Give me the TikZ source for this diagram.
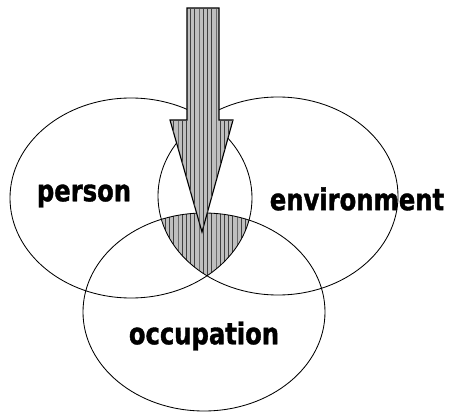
\documentclass[tikz,border=0pt]{standalone}
\usepackage{fontspec}
\newfontfamily\labelfont{DejaVu Sans Condensed}[BoldFont={DejaVu Sans Condensed Bold}, BoldFeatures={FakeStretch=0.9, FakeBold=1.2}]
\usetikzlibrary{patterns}

\begin{document}
\begin{tikzpicture}[x=0.025cm, y=-0.025cm,
  ring/.style={draw, line width=0.6pt},
  hatch/.style={fill=gray!50, postaction={pattern=vertical lines, pattern color=black!75}},
  tag/.style={font=\labelfont\bfseries\fontsize{21.3}{22}\selectfont, inner sep=0pt}]
\useasboundingbox (0,0) rectangle (449,414);
% overlap of all three
\begin{scope}
  \clip (131,198) ellipse [x radius=121, y radius=100];
  \clip (278,196) ellipse [x radius=120, y radius=99];
  \fill[hatch] (204,312) ellipse [x radius=121, y radius=99];
\end{scope}
\draw[ring] (131,198) ellipse [x radius=121, y radius=100];
\draw[ring] (278,196) ellipse [x radius=120, y radius=99];
\draw[ring] (204,312) ellipse [x radius=121, y radius=99];
% big arrow
\draw[hatch, line width=0.8pt] (187,8) -- (219,8) -- (219,120) -- (233,120) -- (202,232) -- (170,120) -- (187,120) -- cycle;
\node[tag] (person) at (84,196) {person};
\node[tag] (environment) at (357,199) {environment};
\node[tag] (occupation) at (204,336) {occupation};
\end{tikzpicture}
\end{document}
